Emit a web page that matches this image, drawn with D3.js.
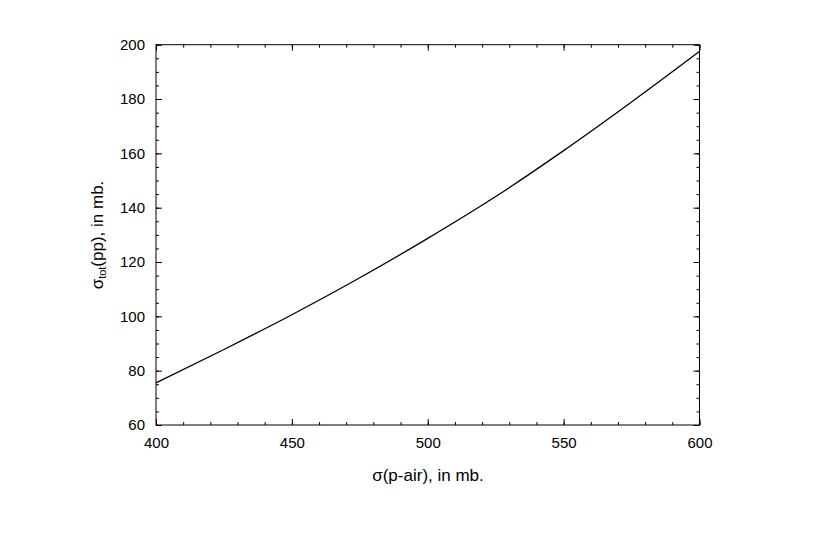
<!DOCTYPE html>
<html>
<head>
<meta charset="utf-8">
<script src="https://cdn.jsdelivr.net/npm/d3@7"></script>
<style>
  html, body { margin: 0; padding: 0; background: #fff; }
  svg text { font-family: "Liberation Sans", Arial, Helvetica, sans-serif; fill: #000; }
</style>
</head>
<body>
<svg id="chart" width="830" height="540"></svg>
<script>
// Data
const sigmaPAir = [400, 425, 450, 475, 500, 525, 550, 575, 600];
const sigmaPP   = [75.5, 87.8, 100.6, 114.2, 128.7, 144.1, 161.0, 178.9, 197.5];
const xTicks = [400, 450, 500, 550, 600];
const yTicks = [60, 80, 100, 120, 140, 160, 180, 200];

const svg = d3.select("#chart");
const L = 156, R = 699.5, T = 44.7, B = 425;

const x = d3.scaleLinear().domain([400, 600]).range([L, R]);
const y = d3.scaleLinear().domain([60, 200]).range([B, T]);

const g = svg.append("g");

function ticksAxis(axisGen, transform) {
  const a = g.append("g").attr("transform", transform).call(axisGen);
  a.select(".domain").remove();
  a.selectAll("line").attr("stroke", "#000").attr("stroke-width", 1);
  return a;
}

const xMinor = d3.range(400, 601, 10);
const yMinor = d3.range(60, 201, 5);

ticksAxis(d3.axisBottom(x).tickValues(xMinor).tickSize(-3).tickFormat(""), `translate(0,${B})`);
ticksAxis(d3.axisTop(x).tickValues(xMinor).tickSize(-3).tickFormat(""), `translate(0,${T})`);
ticksAxis(d3.axisLeft(y).tickValues(yMinor).tickSize(-3).tickFormat(""), `translate(${L},0)`);
ticksAxis(d3.axisRight(y).tickValues(yMinor).tickSize(-3).tickFormat(""), `translate(${R},0)`);

const xb = ticksAxis(d3.axisBottom(x).tickValues(xTicks).tickSize(-6).tickPadding(12), `translate(0,${B})`);
xb.selectAll("text").style("font-size", "15px").style("font-family", "'Liberation Sans', Arial, sans-serif");
ticksAxis(d3.axisTop(x).tickValues(xTicks).tickSize(-6).tickFormat(""), `translate(0,${T})`);
const yl = ticksAxis(d3.axisLeft(y).tickValues(yTicks).tickSize(-6).tickPadding(11), `translate(${L},0)`);
yl.selectAll("text").style("font-size", "15px").style("font-family", "'Liberation Sans', Arial, sans-serif");
ticksAxis(d3.axisRight(y).tickValues(yTicks).tickSize(-6).tickFormat(""), `translate(${R},0)`);

g.append("rect")
  .attr("x", L).attr("y", T).attr("width", R - L).attr("height", B - T)
  .attr("fill", "none").attr("stroke", "#000").attr("stroke-width", 1);

const pts = sigmaPAir.map((v, i) => [v, sigmaPP[i]]);
const line = d3.line().x(d => x(d[0])).y(d => y(d[1])).curve(d3.curveMonotoneX);
g.append("path").datum(pts).attr("d", line)
  .attr("fill", "none").attr("stroke", "#000").attr("stroke-width", 1.3);

svg.append("text").attr("x", 428).attr("y", 481)
  .attr("text-anchor", "middle").style("font-size", "17px")
  .text("σ(p-air), in mb.");

const yt = svg.append("text")
  .attr("transform", "translate(103,235) rotate(-90)")
  .attr("text-anchor", "middle").style("font-size", "17px");
yt.append("tspan").text("σ");
yt.append("tspan").attr("baseline-shift", "-25%").style("font-size", "11px").text("tot");
yt.append("tspan").text("(pp), in mb.");
</script>
</body>
</html>
